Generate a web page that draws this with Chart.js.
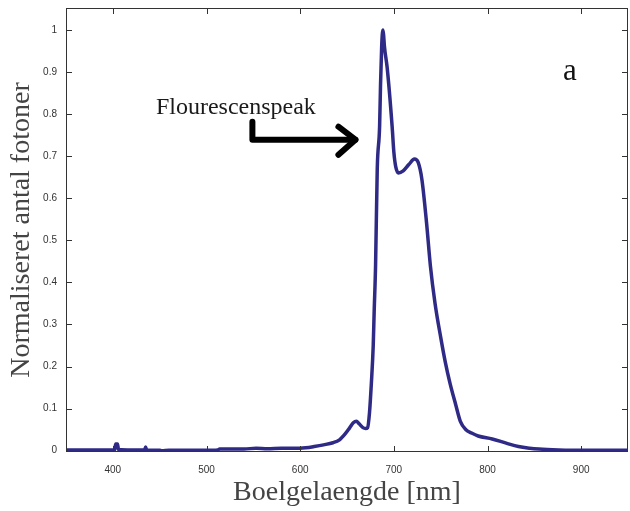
<!DOCTYPE html>
<html>
<head>
<meta charset="utf-8">
<script src="https://cdn.jsdelivr.net/npm/chart.js@4/dist/chart.umd.min.js"></script>
<style>
html,body{margin:0;padding:0;background:#fff;}
#wrap{width:630px;height:511px;position:relative;}
</style>
</head>
<body>
<div id="wrap"><canvas id="c" width="630" height="511"></canvas></div>
<script>
// Data
const wavelengths = [350,360,380,400,402,403,405,406,420,434,435,436,450,452,460,480,500,512,514,540,553,565,580,600,606,615,625,635,642,648,653,657,660,663,667,670,672,674,676,678,679,680.5,682.3,684.8,685.8,687,688.3,689,690,692.9,698.2,700,702,705,710,716,722,726,730,735,739,744,750,755,760,766,771,777,783,790,805,820,833,845,855,876,900,950];
const intensity   = [0.002,0.002,0.002,0.002,0.002,0.016,0.016,0.003,0.002,0.002,0.009,0.002,0.001,0.0,0.001,0.001,0.001,0.002,0.004,0.004,0.006,0.005,0.006,0.006,0.007,0.010,0.014,0.019,0.026,0.040,0.055,0.067,0.070,0.064,0.055,0.053,0.055,0.09,0.16,0.25,0.33,0.44,0.67,0.77,0.87,0.96,1.0,0.99,0.96,0.91,0.77,0.71,0.675,0.66,0.665,0.68,0.693,0.685,0.644,0.54,0.44,0.35,0.27,0.21,0.16,0.11,0.07,0.05,0.042,0.035,0.028,0.018,0.010,0.006,0.004,0.002,0.001,0.001];
const xTicks = [400,500,600,700,800,900];
const yTicks = [0,0.1,0.2,0.3,0.4,0.5,0.6,0.7,0.8,0.9,1];
const xLabel = 'Boelgelaengde [nm]';
const yLabel = 'Normaliseret antal fotoner';
const noteText = 'Flourescenspeak';
const notePos = [446, 0.80];             // [nm, value] left/baseline of text
const arrowPath = [[549,0.782],[549,0.739],[659,0.739]]; // [nm, value]
const panelLetter = 'a';
const letterPos = [888, 0.90];

const points = wavelengths.map((w,i)=>({x:w,y:intensity[i]}));

const framePlugin = {
  id:'frame',
  afterDatasetsDraw(chart){
    const {ctx, chartArea:a, scales:{x,y}} = chart;
    ctx.save();
    ctx.strokeStyle = '#333';
    ctx.lineWidth = 1;
    ctx.strokeRect(a.left+0.5, a.top+0.5, a.right-a.left-1, a.bottom-a.top-1);
    ctx.beginPath();
    xTicks.forEach(v=>{
      const px = Math.round(x.getPixelForValue(v))+0.5;
      ctx.moveTo(px,a.bottom); ctx.lineTo(px,a.bottom-6);
      ctx.moveTo(px,a.top); ctx.lineTo(px,a.top+6);
    });
    yTicks.forEach(v=>{
      const py = Math.round(y.getPixelForValue(v))+0.5;
      ctx.moveTo(a.left,py); ctx.lineTo(a.left+6,py);
      ctx.moveTo(a.right,py); ctx.lineTo(a.right-6,py);
    });
    ctx.stroke();

    // annotation text
    ctx.fillStyle = '#1a1a1a';
    ctx.font = '24px "Liberation Serif", serif';
    ctx.textBaseline = 'alphabetic';
    ctx.textAlign = 'left';
    ctx.fillText(noteText, x.getPixelForValue(notePos[0]), y.getPixelForValue(notePos[1]));
    // arrow
    ctx.strokeStyle = '#000';
    ctx.lineWidth = 6;
    ctx.lineCap = 'round';
    ctx.lineJoin = 'round';
    ctx.beginPath();
    arrowPath.forEach((p,i)=>{
      const px = x.getPixelForValue(p[0]), py = y.getPixelForValue(p[1]);
      if(i===0) ctx.moveTo(px,py); else ctx.lineTo(px,py);
    });
    ctx.stroke();
    const tip = arrowPath[arrowPath.length-1];
    const tx = x.getPixelForValue(tip[0]), ty = y.getPixelForValue(tip[1]);
    ctx.beginPath();
    ctx.moveTo(tx-17, ty-13); ctx.lineTo(tx, ty); ctx.lineTo(tx-17, ty+15);
    ctx.stroke();
    // panel letter
    ctx.fillStyle = '#111';
    ctx.font = '31px "Liberation Serif", serif';
    ctx.textAlign = 'center';
    ctx.textBaseline = 'middle';
    ctx.fillText(panelLetter, x.getPixelForValue(letterPos[0]), y.getPixelForValue(letterPos[1]));
    ctx.restore();
  }
};

new Chart(document.getElementById('c'), {
  type:'line',
  data:{datasets:[{
    data:points,
    borderColor:'#2e2a85',
    borderWidth:3.5,
    pointRadius:0,
    fill:false,
    cubicInterpolationMode:'monotone'
  }]},
  options:{
    responsive:false,
    animation:false,
    layout:{padding:{top:8,right:2,left:0,bottom:0}},
    plugins:{legend:{display:false},tooltip:{enabled:false}},
    scales:{
      x:{
        type:'linear', min:350, max:950,
        afterBuildTicks(s){ s.ticks = xTicks.map(v=>({value:v})); },
        afterFit(s){ s.height = 59; s.paddingLeft = 0; s.paddingRight = 0; },
        grid:{display:false, drawTicks:false},
        border:{display:false},
        ticks:{padding:12, color:'#333', font:{family:'"Liberation Sans", Arial', size:10}, maxRotation:0, autoSkip:false, callback:v=>String(v)},
        title:{display:true, text:xLabel, color:'#444', font:{family:'"Liberation Serif", serif', size:28}, padding:{top:0,bottom:2}}
      },
      y:{
        type:'linear', min:-0.003, max:1.052,
        afterBuildTicks(s){ s.ticks = yTicks.map(v=>({value:v})); },
        afterFit(s){ s.width = 66; s.paddingTop = 0; s.paddingBottom = 0; },
        grid:{display:false, drawTicks:false},
        border:{display:false},
        ticks:{padding:9, color:'#333', font:{family:'"Liberation Sans", Arial', size:10}, autoSkip:false, callback:v=>String(Math.round(v*10)/10)},
        title:{display:true, text:yLabel, color:'#444', font:{family:'"Liberation Serif", serif', size:28}, padding:{top:5,bottom:0}}
      }
    }
  },
  plugins:[framePlugin]
});
</script>
</body>
</html>
